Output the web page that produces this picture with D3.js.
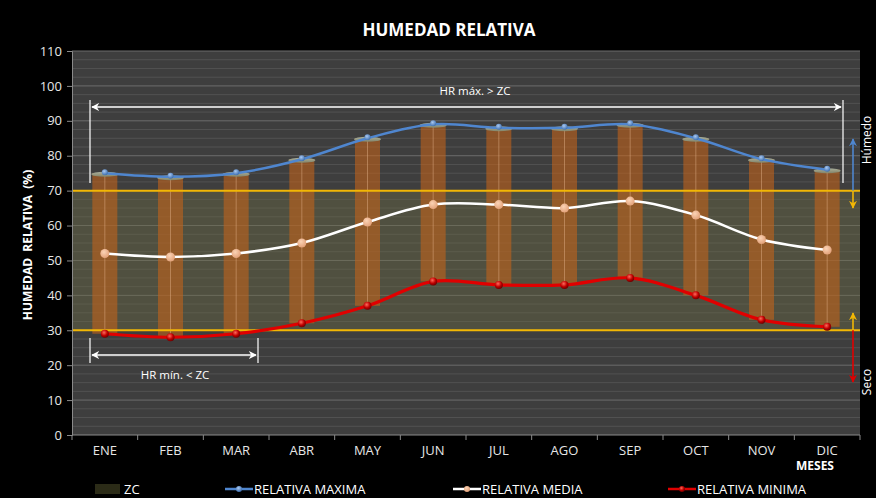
<!DOCTYPE html>
<html>
<head>
<meta charset="utf-8">
<script src="https://cdn.jsdelivr.net/npm/d3@7"></script>
<style>
  html, body { margin: 0; padding: 0; background: #000; }
  svg { display: block; font-family: "Open Sans", "DejaVu Sans", sans-serif; }
</style>
</head>
<body>
<svg id="chart" width="876" height="498"></svg>
<script>
// Monthly relative humidity (%)
const months = ["ENE", "FEB", "MAR", "ABR", "MAY", "JUN", "JUL", "AGO", "SEP", "OCT", "NOV", "DIC"];
const relMaxima = [75, 74, 75, 79, 85, 89, 88, 88, 89, 85, 79, 76];
const relMedia  = [52, 51, 52, 55, 61, 66, 66, 65, 67, 63, 56, 53];
const relMinima = [29, 28, 29, 32, 37, 44, 43, 43, 45, 40, 33, 31];
// Comfort zone (ZC) bounds
const zcRange = [30, 70];
const yTicks = [0, 10, 20, 30, 40, 50, 60, 70, 80, 90, 100, 110];

const svg = d3.select("#chart");
const W = 876, H = 498;
const m = { left: 72, right: 16, top: 51, bottom: 63 };
const x0 = m.left, x1 = W - m.right, y0 = H - m.bottom, y1 = m.top;

const x = d3.scaleBand().domain(months).range([x0, x1]).padding(0);
const y = d3.scaleLinear().domain([0, 110]).range([y0, y1]);
const cx = d => x(d) + x.bandwidth() / 2;

const defs = svg.append("defs");
const gMin = defs.append("radialGradient").attr("id", "minDot").attr("cx", "40%").attr("cy", "35%").attr("r", "65%");
gMin.append("stop").attr("offset", "0%").attr("stop-color", "#ff6a5a");
gMin.append("stop").attr("offset", "60%").attr("stop-color", "#c00000");
gMin.append("stop").attr("offset", "100%").attr("stop-color", "#700000");
const gMax = defs.append("radialGradient").attr("id", "maxDot").attr("cx", "40%").attr("cy", "35%").attr("r", "65%");
gMax.append("stop").attr("offset", "0%").attr("stop-color", "#a9c8f0");
gMax.append("stop").attr("offset", "100%").attr("stop-color", "#3f70b0");
const gMed = defs.append("radialGradient").attr("id", "medDot").attr("cx", "40%").attr("cy", "35%").attr("r", "65%");
gMed.append("stop").attr("offset", "0%").attr("stop-color", "#fbd3b5");
gMed.append("stop").attr("offset", "100%").attr("stop-color", "#e3a27a");
const gCap = defs.append("linearGradient").attr("id", "cap").attr("x1", 0).attr("x2", 0).attr("y1", 0).attr("y2", 1);
gCap.append("stop").attr("offset", "0%").attr("stop-color", "#b5bba6");
gCap.append("stop").attr("offset", "100%").attr("stop-color", "#7f8a72");

const arrowDefs = [["arW", "#ffffff"], ["arB", "#4f86cf"], ["arY", "#f2b705"], ["arR", "#e00000"]];
arrowDefs.forEach(([id, c]) => {
  defs.append("marker").attr("id", id).attr("viewBox", "0 0 10 10").attr("refX", 9).attr("refY", 5)
    .attr("markerWidth", 5).attr("markerHeight", 5).attr("orient", "auto-start-reverse")
    .append("path").attr("d", "M0,0 L10,5 L0,10 L3,5 Z").attr("fill", c);
});

// Plot area
svg.append("rect").attr("x", x0).attr("y", y1).attr("width", x1 - x0).attr("height", y0 - y1).attr("fill", "#3e3e3e");

// Minor gridlines every 2.5
const minor = d3.range(0, 110.01, 2.5).filter(v => v % 10 !== 0);
svg.append("g").selectAll("line").data(minor).join("line")
  .attr("x1", x0).attr("x2", x1).attr("y1", d => y(d)).attr("y2", d => y(d))
  .attr("stroke", "#525252").attr("stroke-width", 1);
svg.append("g").selectAll("line").data(yTicks.filter(v => v > 0)).join("line")
  .attr("x1", x0).attr("x2", x1).attr("y1", d => y(d)).attr("y2", d => y(d))
  .attr("stroke", "#6c6c6c").attr("stroke-width", 1);

// ZC band
svg.append("rect").attr("x", x0).attr("width", x1 - x0)
  .attr("y", y(zcRange[1])).attr("height", y(zcRange[0]) - y(zcRange[1]))
  .attr("fill", "#6c6c44").attr("opacity", 0.4);

// Range bars (minimum to maximum)
const bw = 25;
svg.append("g").selectAll("rect").data(months).join("rect")
  .attr("x", (d) => cx(d) - bw / 2).attr("width", bw)
  .attr("y", (d, i) => y(relMaxima[i])).attr("height", (d, i) => y(relMinima[i]) - y(relMaxima[i]))
  .attr("fill", "#c2621a").attr("opacity", 0.6);
svg.append("g").selectAll("line").data(months).join("line")
  .attr("x1", d => cx(d)).attr("x2", d => cx(d))
  .attr("y1", (d, i) => y(relMaxima[i])).attr("y2", (d, i) => y(relMinima[i]))
  .attr("stroke", "#e8b890").attr("stroke-width", 0.8).attr("opacity", 0.55);
svg.append("g").selectAll("ellipse").data(months).join("ellipse")
  .attr("cx", d => cx(d)).attr("cy", (d, i) => y(relMaxima[i]) + 1)
  .attr("rx", bw / 2 + 1).attr("ry", 2.5)
  .attr("fill", "url(#cap)").attr("opacity", 0.9);

// ZC bounds
svg.append("g").selectAll("line").data(zcRange).join("line")
  .attr("x1", x0).attr("x2", x1).attr("y1", d => y(d)).attr("y2", d => y(d))
  .attr("stroke", "#f2b705").attr("stroke-width", 2);

// Axes
const yAxis = d3.axisLeft(y).tickValues(yTicks).tickSize(5).tickPadding(5);
const gy = svg.append("g").attr("transform", `translate(${x0},0)`).call(yAxis);
gy.select(".domain").attr("stroke", "#8a8a8a");
gy.selectAll(".tick line").attr("stroke", "#8a8a8a");
gy.selectAll(".tick text").attr("fill", "#e6e6e6").attr("font-size", 13).style("font-family", "'Open Sans', sans-serif");

svg.append("line").attr("x1", x0).attr("x2", x1).attr("y1", y0).attr("y2", y0).attr("stroke", "#8a8a8a");
svg.append("g").selectAll("line").data(d3.range(months.length + 1)).join("line")
  .attr("x1", i => x0 + i * x.bandwidth()).attr("x2", i => x0 + i * x.bandwidth())
  .attr("y1", y0).attr("y2", y0 + 5).attr("stroke", "#8a8a8a");
svg.append("g").selectAll("text").data(months).join("text")
  .attr("x", d => cx(d)).attr("y", y0 + 20).attr("text-anchor", "middle")
  .attr("fill", "#e6e6e6").attr("font-size", 13).text(d => d);

// Series lines
const line = d3.line().x((d, i) => cx(months[i])).y(d => y(d)).curve(d3.curveCatmullRom.alpha(0.5));
svg.append("path").attr("d", line(relMaxima)).attr("fill", "none").attr("stroke", "#4f86cf").attr("stroke-width", 2.5);
svg.append("path").attr("d", line(relMedia)).attr("fill", "none").attr("stroke", "#ffffff").attr("stroke-width", 2.5);
svg.append("path").attr("d", line(relMinima)).attr("fill", "none").attr("stroke", "#e00000").attr("stroke-width", 3.2);

svg.append("g").selectAll("circle").data(relMaxima).join("circle")
  .attr("cx", (d, i) => cx(months[i])).attr("cy", d => y(d) - 1).attr("r", 3)
  .attr("fill", "url(#maxDot)");
svg.append("g").selectAll("circle").data(relMedia).join("circle")
  .attr("cx", (d, i) => cx(months[i])).attr("cy", d => y(d)).attr("r", 4.5)
  .attr("fill", "url(#medDot)");
svg.append("g").selectAll("circle").data(relMinima).join("circle")
  .attr("cx", (d, i) => cx(months[i])).attr("cy", d => y(d)).attr("r", 4)
  .attr("fill", "url(#minDot)");

// Annotations: HR max above ZC
const ax0 = 90, ax1 = 843;
svg.append("line").attr("x1", ax0).attr("x2", ax0).attr("y1", 100).attr("y2", 183).attr("stroke", "#fff").attr("stroke-width", 1.2);
svg.append("line").attr("x1", ax1).attr("x2", ax1).attr("y1", 100).attr("y2", 183).attr("stroke", "#fff").attr("stroke-width", 1.2);
svg.append("line").attr("x1", ax0 + 2).attr("x2", ax1 - 2).attr("y1", 107).attr("y2", 107)
  .attr("stroke", "#fff").attr("stroke-width", 1.6)
  .attr("marker-start", "url(#arW)").attr("marker-end", "url(#arW)");
svg.append("text").attr("x", 475).attr("y", 95).attr("text-anchor", "middle")
  .attr("fill", "#fff").attr("font-size", 11.5).text("HR máx. > ZC");

// Annotations: HR min below ZC
const bx1 = 258;
svg.append("line").attr("x1", ax0).attr("x2", ax0).attr("y1", 338).attr("y2", 363).attr("stroke", "#fff").attr("stroke-width", 1.2);
svg.append("line").attr("x1", bx1).attr("x2", bx1).attr("y1", 338).attr("y2", 363).attr("stroke", "#fff").attr("stroke-width", 1.2);
svg.append("line").attr("x1", ax0 + 2).attr("x2", bx1 - 2).attr("y1", 355).attr("y2", 355)
  .attr("stroke", "#fff").attr("stroke-width", 1.6)
  .attr("marker-start", "url(#arW)").attr("marker-end", "url(#arW)");
svg.append("text").attr("x", 175).attr("y", 379).attr("text-anchor", "middle")
  .attr("fill", "#fff").attr("font-size", 11.5).text("HR mín. < ZC");

// Humid / dry direction arrows
const rx = 853;
const arrow = (ya, yb, c, id) => svg.append("line").attr("x1", rx).attr("x2", rx).attr("y1", ya).attr("y2", yb)
  .attr("stroke", c).attr("stroke-width", 1.6).attr("marker-end", `url(#${id})`);
arrow(y(70), 139, "#4f86cf", "arB");
arrow(y(70), 208, "#f2b705", "arY");
arrow(y(30), 313, "#f2b705", "arY");
arrow(y(30), 382, "#e00000", "arR");
svg.append("text").attr("transform", "translate(871,140) rotate(-90)").attr("text-anchor", "middle")
  .attr("fill", "#fff").attr("font-size", 12).text("Húmedo");
svg.append("text").attr("transform", "translate(871,382) rotate(-90)").attr("text-anchor", "middle")
  .attr("fill", "#fff").attr("font-size", 12).text("Seco");

// Titles
svg.append("text").attr("x", 449).attr("y", 36).attr("text-anchor", "middle")
  .attr("fill", "#fff").attr("font-size", 17).attr("font-weight", "bold").text("HUMEDAD RELATIVA");
svg.append("text").attr("transform", `translate(32,${(y0 + y1) / 2 + 2}) rotate(-90)`).attr("text-anchor", "middle")
  .attr("fill", "#fff").attr("font-size", 12).attr("font-weight", "bold")
  .attr("xml:space", "preserve").style("white-space", "pre").text("HUMEDAD  RELATIVA  (%)");
svg.append("text").attr("x", 815).attr("y", 470).attr("text-anchor", "middle")
  .attr("fill", "#fff").attr("font-size", 12).attr("font-weight", "bold").text("MESES");

// Legend
const ly = 489;
svg.append("rect").attr("x", 95).attr("y", ly - 5).attr("width", 25).attr("height", 10).attr("fill", "#2b2b17");
svg.append("text").attr("x", 124).attr("y", ly + 5).attr("fill", "#fff").attr("font-size", 13).text("ZC");
const legendItems = [
  { label: "RELATIVA MAXIMA", x: 225, c: "#4f86cf", dot: "url(#maxDot)" },
  { label: "RELATIVA MEDIA", x: 453, c: "#ffffff", dot: "url(#medDot)" },
  { label: "RELATIVA MINIMA", x: 668, c: "#e00000", dot: "url(#minDot)" }
];
legendItems.forEach(it => {
  svg.append("line").attr("x1", it.x).attr("x2", it.x + 28).attr("y1", ly).attr("y2", ly).attr("stroke", it.c).attr("stroke-width", 2.5);
  svg.append("circle").attr("cx", it.x + 14).attr("cy", ly).attr("r", 3).attr("fill", it.dot);
  svg.append("text").attr("x", it.x + 29).attr("y", ly + 5).attr("fill", "#fff").attr("font-size", 13).text(it.label);
});
</script>
</body>
</html>
